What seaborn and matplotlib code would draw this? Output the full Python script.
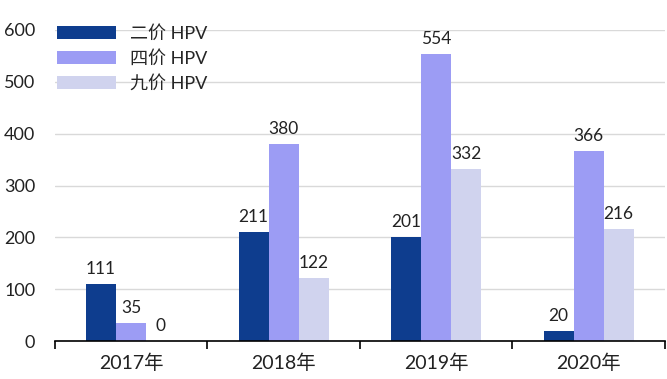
import pandas as pd
import matplotlib.pyplot as plt
import seaborn as sns

# 数据
years = ['2017年', '2018年', '2019年', '2020年']
series = ['二价 HPV', '四价 HPV', '九价 HPV']
bivalent = [111, 211, 201, 20]
quadrivalent = [35, 380, 554, 366]
nonavalent = [0, 122, 332, 216]
colors = ['#0E3D8E', '#9C9CF4', '#D0D3EE']

df = pd.DataFrame({
    'year': years * 3,
    'vaccine': [series[0]] * 4 + [series[1]] * 4 + [series[2]] * 4,
    'value': bivalent + quadrivalent + nonavalent,
})

sns.set_theme(style='white')
plt.rcParams['font.family'] = ['Lato', 'Noto Sans CJK SC', 'DejaVu Sans']

fig = plt.figure(figsize=(6.67, 3.79), dpi=100)
ax = fig.add_axes([0.082, 0.1, 0.915, 0.821])

sns.barplot(data=df, x='year', y='value', hue='vaccine', order=years,
            hue_order=series, palette=colors, width=0.59, gap=0,
            saturation=1, linewidth=0, ax=ax)

for cont in ax.containers:
    ax.bar_label(cont, padding=5, fontsize=12.5, color='#222222')

ax.set_ylim(0, 600)
ax.set_yticks(range(0, 601, 100))
ax.yaxis.grid(True, color='#D9D9D9', linewidth=1)
ax.set_axisbelow(True)
ax.tick_params(axis='y', length=0, labelsize=13, pad=14, colors='#222222')

ax.set_xlim(-0.5, 3.5)
ax.set_xticks([-0.5, 0.5, 1.5, 2.5, 3.5])
ax.set_xticklabels([])
ax.tick_params(axis='x', which='major', direction='out', length=6,
               width=1.2, color='black', bottom=True)
ax.set_xticks(range(4), minor=True)
ax.set_xticklabels(years, minor=True)
ax.tick_params(axis='x', which='minor', length=0, labelsize=14, pad=9,
               colors='#222222')

for s in ['top', 'right', 'left']:
    ax.spines[s].set_visible(False)
ax.spines['bottom'].set_color('black')
ax.spines['bottom'].set_linewidth(1.2)
ax.set_xlabel('')
ax.set_ylabel('')

leg = ax.legend(loc='upper left', bbox_to_anchor=(0.003, 1.016),
                frameon=False, fontsize=13, handlelength=3.3,
                handleheight=0.7, labelspacing=0.45, handletextpad=0.75,
                borderpad=0, borderaxespad=0)

fig.savefig('out.png', dpi=100)
